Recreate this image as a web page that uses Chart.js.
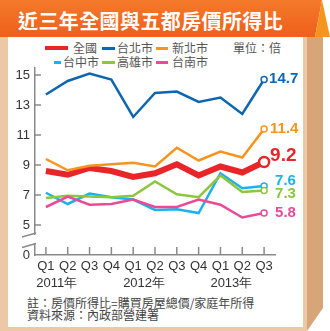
<!DOCTYPE html>
<html>
<head>
<meta charset="utf-8">
<script src="https://cdn.jsdelivr.net/npm/chart.js@4"></script>
<style>
  body { margin: 0; width: 330px; height: 331px; background: #fff; position: relative; overflow: hidden;
         font-family: "Liberation Sans", "Noto Sans CJK TC", sans-serif; }
  .abs { position: absolute; }
  #titleBar { left: 0; top: 0; width: 322px; height: 37px; background: linear-gradient(#f47a2a, #ef5f1c);
              clip-path: polygon(0 0, 322px 0, 315px 37px, 0 37px); }
  #fold { left: 315px; top: 0; width: 15px; height: 37px; background: #f7941d;
          clip-path: polygon(0 37px, 7px 0, 15px 37px); }
  #title { left: 18px; top: 6px; color: #fff; font: bold 20px "Noto Sans CJK TC", sans-serif; letter-spacing: 0.4px; }
  #frame { left: 0; top: 37px; width: 307px; height: 294px; background: #ecc8a6; }
  #card { left: 8px; top: 37px; width: 295px; height: 290px; background: #fff; }
  #side { left: 307px; top: 37px; width: 16px; height: 294px; background: #d6a678;
          clip-path: polygon(0 0, 16px 0, 16px 271px, 0 294px); }
  .leg { font: 12px "Noto Sans CJK TC", sans-serif; color: #555; line-height: 14px; }
  .sw { height: 3px; }
  .note { left: 27px; font: 12px "Noto Sans CJK TC", sans-serif; color: #444; line-height: 12px; }
  canvas { position: absolute; left: 0; top: 0; }
</style>
</head>
<body>
<div id="frame" class="abs"></div>
<div id="card" class="abs"></div>
<div id="side" class="abs"></div>
<div id="titleBar" class="abs"></div>
<div id="fold" class="abs"></div>
<div id="title" class="abs">近三年全國與五都房價所得比</div>

<div class="abs sw" style="left:45px;top:46px;width:23px;height:4px;background:#e8262a"></div>
<div class="abs leg" style="left:73px;top:41px">全國</div>
<div class="abs sw" style="left:102px;top:47px;width:13px;background:#0f66b0"></div>
<div class="abs leg" style="left:117px;top:41px">台北市</div>
<div class="abs sw" style="left:156px;top:47px;width:12px;background:#f7941d"></div>
<div class="abs leg" style="left:172px;top:41px">新北市</div>
<div class="abs leg" style="left:233px;top:41px">單位：倍</div>
<div class="abs sw" style="left:54px;top:61px;width:7px;background:#1cb1ea"></div>
<div class="abs leg" style="left:63px;top:55px">台中市</div>
<div class="abs sw" style="left:102px;top:61px;width:13px;background:#8cc63f"></div>
<div class="abs leg" style="left:117px;top:55px">高雄市</div>
<div class="abs sw" style="left:156px;top:61px;width:12px;background:#ec4a97"></div>
<div class="abs leg" style="left:172px;top:55px">台南市</div>

<div class="abs note" style="top:297px">註：房價所得比=購買房屋總價/家庭年所得</div>
<div class="abs note" style="top:309px">資料來源：內政部營建署</div>

<canvas id="chart" width="330" height="331"></canvas>

<script>
// quarters on the x axis, years written under them
const quarters = ['Q1', 'Q2', 'Q3', 'Q4', 'Q1', 'Q2', 'Q3', 'Q4', 'Q1', 'Q2', 'Q3'];
const years = ['2011年', '2012年', '2013年'];
const yearStart = [0, 4, 8];

// broken axis: the bottom tick stands for 0
const yTicks = [3, 5, 7, 9, 11, 13, 15];
const yTickLabels = ['0', '5', '7', '9', '11', '13', '15'];

const national = [8.6, 8.35, 8.8, 8.6, 8.2, 8.45, 9.05, 8.3, 8.9, 8.5, 9.2];
const taipei = [13.7, 14.6, 15.1, 14.7, 12.2, 13.8, 13.9, 13.2, 13.5, 12.4, 14.7];
const newTaipei = [9.4, 8.65, 8.95, 9.05, 9.15, 8.9, 10.15, 9.3, 9.9, 9.5, 11.4];
const taichung = [7.15, 6.4, 7.1, 6.85, 6.7, 6.0, 6.05, 5.8, 8.45, 7.45, 7.6];
const kaohsiung = [6.8, 6.95, 6.9, 6.85, 6.95, 7.9, 7.05, 6.85, 8.3, 7.2, 7.3];
const tainan = [6.2, 6.9, 6.35, 6.4, 6.7, 6.2, 6.2, 6.7, 6.35, 5.5, 5.8];

const last = quarters.length - 1;
const numFont = '"Liberation Sans", Arial, sans-serif';

const makeSet = (label, data, color, width, radius, endText, endStyle) => ({
    label, data,
    borderColor: color,
    borderWidth: width,
    tension: 0,
    pointRadius: ctx => ctx.dataIndex === last ? radius : 0,
    pointBackgroundColor: '#fff',
    pointBorderColor: color,
    pointBorderWidth: width > 4 ? 2.5 : 1.5,
    endText, endStyle
});

const datasets = [
    makeSet('台南市', tainan, '#ec4a97', 2.5, 3, '5.8', { dx: 11, dy: 0, size: 15 }),
    makeSet('高雄市', kaohsiung, '#8cc63f', 2.5, 3, '7.3', { dx: 11, dy: 3.5, size: 15 }),
    makeSet('台中市', taichung, '#1cb1ea', 2.5, 3, '7.6', { dx: 11, dy: -5, size: 15 }),
    makeSet('台北市', taipei, '#0f66b0', 2.5, 3, '14.7', { dx: 5, dy: -1, size: 15 }),
    makeSet('新北市', newTaipei, '#f7941d', 2.5, 3, '11.4', { dx: 6, dy: 0, size: 15 }),
    makeSet('全國', national, '#e8262a', 6, 5, '9.2', { dx: 6, dy: -6, size: 19 })
];

// short ticks inside the axes, the axis break, year labels and end values
const decorPlugin = {
    id: 'decor',
    afterDraw(chart) {
        const { ctx, scales: { x, y } } = chart;
        const axisY = y.getPixelForValue(3);
        ctx.save();
        ctx.strokeStyle = '#8a8a8a';
        ctx.lineWidth = 1.5;
        ctx.beginPath();
        yTicks.slice(1).forEach(v => {
            const py = y.getPixelForValue(v);
            ctx.moveTo(x.left, py);
            ctx.lineTo(x.left + 6, py);
        });
        quarters.forEach((q, i) => {
            const px = x.getPixelForValue(i);
            ctx.moveTo(px, axisY);
            ctx.lineTo(px, axisY - 8);
        });
        ctx.stroke();

        // break in the y axis
        const b1 = y.getPixelForValue(4.4);
        const b2 = y.getPixelForValue(3.7);
        ctx.fillStyle = '#fff';
        ctx.fillRect(x.left - 3, b1 + 1, 6, b2 - b1 - 2);
        ctx.beginPath();
        ctx.moveTo(x.left - 13, b1 + 3);
        ctx.lineTo(x.left + 1, b1 - 1);
        ctx.moveTo(x.left - 13, b2 + 3);
        ctx.lineTo(x.left + 1, b2 - 1);
        ctx.stroke();

        ctx.fillStyle = '#333';
        ctx.font = '13px ' + numFont;
        ctx.textAlign = 'center';
        ctx.textBaseline = 'middle';
        years.forEach((t, i) => {
            const px = (x.getPixelForValue(yearStart[i]) + x.getPixelForValue(yearStart[i] + 1)) / 2;
            ctx.fillText(t, px, axisY + 28);
        });

        ctx.textAlign = 'left';
        chart.data.datasets.forEach((ds, i) => {
            const pt = chart.getDatasetMeta(i).data[last];
            ctx.fillStyle = ds.borderColor;
            ctx.font = 'bold ' + ds.endStyle.size + 'px ' + numFont;
            ctx.fillText(ds.endText, pt.x + ds.endStyle.dx, pt.y + ds.endStyle.dy);
        });
        ctx.restore();
    }
};

new Chart(document.getElementById('chart'), {
    type: 'line',
    data: { labels: quarters, datasets },
    options: {
        responsive: false,
        animation: false,
        layout: { padding: { left: 0, right: 55, top: 67.5, bottom: 46 } },
        plugins: { legend: { display: false }, tooltip: { enabled: false } },
        scales: {
            x: {
                offset: true,
                grid: { display: false, drawTicks: false },
                border: { display: true, color: '#8a8a8a', width: 1.5 },
                ticks: { color: '#333', font: { family: numFont, size: 13 }, padding: 4, maxRotation: 0 },
                afterFit: s => { s.height = 30; }
            },
            y: {
                min: 3,
                max: 15.5,
                grid: { display: false, drawTicks: false },
                border: { display: true, color: '#8a8a8a', width: 1.5 },
                afterBuildTicks: s => { s.ticks = yTicks.map(v => ({ value: v })); },
                ticks: {
                    color: '#333',
                    font: { family: numFont, size: 13 },
                    padding: 5,
                    callback: v => yTickLabels[yTicks.indexOf(v)]
                },
                afterFit: s => { s.width = 35; }
            }
        }
    },
    plugins: [decorPlugin]
});
</script>
</body>
</html>
